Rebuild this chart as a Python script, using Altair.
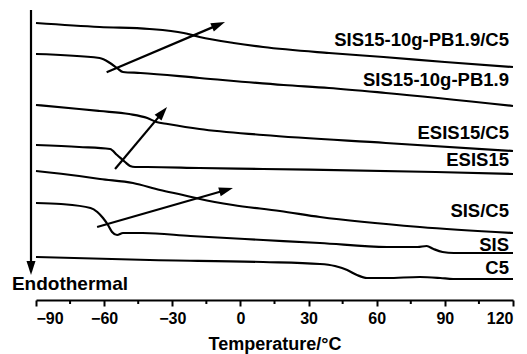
import math
import altair as alt
import pandas as pd

# ---------------- data (temperature in °C, heat flow in arbitrary units) ----------------
T_DOMAIN = [-90, 120]
HF_DOMAIN = [0, 300]
MAJOR_TICKS = [-90, -60, -30, 0, 30, 60, 90, 120]
MINOR_TICKS = [-75, -45, -15, 15, 45, 75, 105]

names = ["SIS15-10g-PB1.9/C5", "SIS15-10g-PB1.9", "ESIS15/C5", "ESIS15",
         "SIS/C5", "SIS", "C5"]

s1_t = [-90, -62, -40, -25, -18, -3, 10, 39, 63, 90, 120]
s1_y = [277, 273, 271, 267, 263, 257, 253, 247, 243, 238, 233]

s2_t = [-90, -62, -57.4, -54.3, -51.7, -44, -18, 19, 39, 64, 120]
s2_y = [246, 242, 237, 232, 228, 227, 222, 215, 212, 207, 194]

s3_t = [-90, -71, -62, -49, -41, -37, -32, -18, 10, 64, 120]
s3_y = [195, 191, 189, 186, 182, 178, 176, 171, 165, 157, 149]

s4_t = [-90, -71, -57.4, -54.3, -50.8, -48.6, -46.4, -41, -18, 10, 86, 120]
s4_y = [155, 153, 151, 145, 138, 134, 133, 133, 132, 131, 128, 126]

s5_t = [-90, -71, -61.8, -47.3, -35.4, -25.3, -17.8, -3.3, 17.4, 35, 79, 120]
s5_y = [129, 124, 121, 117, 110, 105, 101, 95, 89, 83, 73, 67]

s6_t = [-90, -79, -66, -63, -60.5, -58.3, -56.5, -54.3, -51.7, -43, -22, 10, 35,
        64.5, 78, 82, 85, 89, 94, 120]
s6_y = [97, 96, 92, 88, 82, 75, 68, 65, 67, 67, 64, 60, 57, 53, 53, 54, 51, 48,
        47, 47]

s7_t = [-90, -40, 10, 35, 41.6, 44.7, 47, 51.3, 55.7, 64.5, 79, 88, 93.6, 120]
s7_y = [43, 40, 38, 36, 34, 32, 30, 25, 22, 22, 23, 22, 21, 21]

label_y = [260.5, 220, 167, 140, 89.5, 55, 32]
label_t = 120

arrow_tail_t = [-58.9, -55.2, -63.1]
arrow_tail_y = [227.7, 131, 73]
arrow_tip_t = [-6.8, -32.3, -3.3]
arrow_tip_y = [278, 193, 112]

endo_t = -92.2
endo_top_y = 290
endo_tip_y = 25
endo_text = "Endothermal"
endo_text_t = -100.6
endo_text_y = 10

# ---------------- layout ----------------
W, H = 477, 300
SX = W / (T_DOMAIN[1] - T_DOMAIN[0])
SY = H / (HF_DOMAIN[1] - HF_DOMAIN[0])
FONT = "Liberation Sans"
HEAD = "M0,0L-0.9,2.8L0.9,2.8Z"

series_t = [s1_t, s2_t, s3_t, s4_t, s5_t, s6_t, s7_t]
series_y = [s1_y, s2_y, s3_y, s4_y, s5_y, s6_y, s7_y]
rows = []
for name, ts, ys in zip(names, series_t, series_y):
    for t, y in zip(ts, ys):
        rows.append({"series": name, "T": t, "hf": y})
curves = pd.DataFrame(rows)


def arrow_geom(t0, y0, t1, y1, back_px=8):
    dxp = (t1 - t0) * SX
    dyp = (y1 - y0) * SY
    L = math.hypot(dxp, dyp)
    ang = math.degrees(math.atan2(dxp, dyp)) % 360
    ux, uy = dxp / L, dyp / L
    return ang, t1 - ux * back_px / SX, y1 - uy * back_px / SY


arows = []
tails_t = arrow_tail_t + [endo_t]
tails_y = arrow_tail_y + [endo_top_y]
tips_t = arrow_tip_t + [endo_t]
tips_y = arrow_tip_y + [endo_tip_y]
for t0, y0, t1, y1 in zip(tails_t, tails_y, tips_t, tips_y):
    ang, te, ye = arrow_geom(t0, y0, t1, y1)
    arows.append({"T": t0, "hf": y0, "T2": te, "hf2": ye, "Tt": t1, "hft": y1,
                  "angle": ang})
arrows = pd.DataFrame(arows)

labels = pd.DataFrame({"label": names, "T": [label_t] * len(names), "hf": label_y})
minor = pd.DataFrame({"T": MINOR_TICKS})
endo = pd.DataFrame({"label": [endo_text], "T": [endo_text_t], "hf": [endo_text_y]})

xscale = alt.Scale(domain=T_DOMAIN, nice=False, zero=False)
yscale = alt.Scale(domain=HF_DOMAIN, nice=False, zero=False)
xaxis = alt.Axis(values=MAJOR_TICKS, title="Temperature/°C", grid=False,
                 domainColor="black", domainWidth=2, tickColor="black",
                 tickWidth=2, tickSize=6, labelPadding=4, titlePadding=9,
                 format="d", labelFont=FONT, labelFontSize=16,
                 labelFontWeight="bold", labelColor="black",
                 titleFont=FONT, titleFontSize=18, titleFontWeight="bold",
                 titleColor="black")

X = alt.X("T:Q", scale=xscale, axis=xaxis)
Y = alt.Y("hf:Q", scale=yscale, axis=None)

lines = alt.Chart(curves).mark_line(
    color="black", strokeWidth=2.2, interpolate="monotone"
).encode(x=X, y=Y, detail="series:N")

shafts = alt.Chart(arrows).mark_rule(color="black", strokeWidth=2.2).encode(
    x=X, y=Y, x2="T2:Q", y2="hf2:Q")

heads = alt.Chart(arrows).mark_point(
    shape=HEAD, filled=True, color="black", opacity=1, size=100, strokeWidth=0
).encode(
    x=alt.X("Tt:Q", scale=xscale), y=alt.Y("hft:Q", scale=yscale),
    angle=alt.Angle("angle:Q", scale=None))

minor_ticks = alt.Chart(minor).mark_rule(color="black", strokeWidth=2).encode(
    x=alt.X("T:Q", scale=xscale), y=alt.value(H), y2=alt.value(H + 4))

label_text = alt.Chart(labels).mark_text(
    align="right", baseline="middle", dx=-4, font=FONT, fontSize=18.5,
    fontWeight="bold", color="black"
).encode(x=alt.X("T:Q", scale=xscale), y=alt.Y("hf:Q", scale=yscale),
         text="label:N")

endo_label = alt.Chart(endo).mark_text(
    align="left", baseline="alphabetic", font=FONT, fontSize=19,
    fontWeight="bold", color="black"
).encode(x=alt.X("T:Q", scale=xscale), y=alt.Y("hf:Q", scale=yscale),
         text="label:N")

chart = alt.layer(lines, shafts, heads, minor_ticks, label_text, endo_label).properties(
    width=W, height=H, autosize="none",
    padding={"left": 36, "top": 0, "right": 14, "bottom": 54},
    background="white",
).configure_view(stroke=None)

chart.save("out.html", embed_options={"renderer": "svg", "actions": False})
